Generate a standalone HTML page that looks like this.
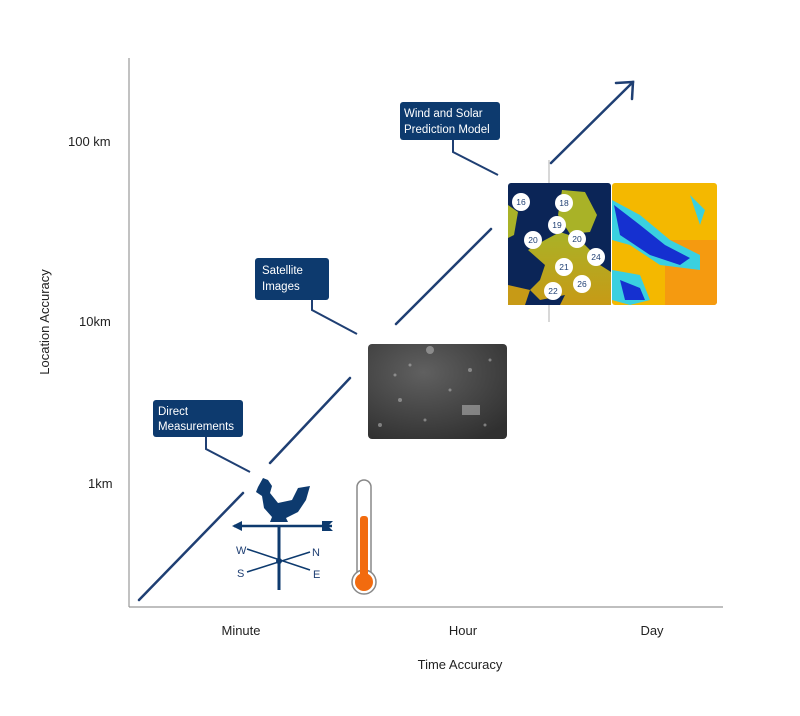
<!DOCTYPE html>
<html><head><meta charset="utf-8"><style>
html,body{margin:0;padding:0;background:#fff;}
svg text{font-family:"Liberation Sans",sans-serif;}
</style></head><body>
<svg width="800" height="711" viewBox="0 0 800 711" xmlns="http://www.w3.org/2000/svg">
<defs>
<linearGradient id="land" x1="0" y1="0" x2="0" y2="1"><stop offset="0" stop-color="#a9b227"/><stop offset="1" stop-color="#c79a16"/></linearGradient>
<radialGradient id="sat" cx="0.4" cy="0.3" r="0.8"><stop offset="0" stop-color="#606060"/><stop offset="1" stop-color="#303030"/></radialGradient>
<clipPath id="hc"><rect x="612" y="183" width="105" height="122" rx="3"/></clipPath>
</defs>
<!-- axes -->
<line x1="129" y1="58" x2="129" y2="607" stroke="#999" stroke-width="1.2"/>
<line x1="129" y1="607" x2="723" y2="607" stroke="#999" stroke-width="1.2"/>
<line x1="549" y1="160" x2="549" y2="322" stroke="#ccc" stroke-width="1.5"/>
<g font-size="13" fill="#222">
<text x="68" y="146">100 km</text>
<text x="79" y="326">10km</text>
<text x="88" y="488">1km</text>
<text x="241" y="635" text-anchor="middle">Minute</text>
<text x="463" y="635" text-anchor="middle">Hour</text>
<text x="652" y="635" text-anchor="middle">Day</text>
<text x="460" y="669" text-anchor="middle">Time Accuracy</text>
<text transform="translate(49,322) rotate(-90)" text-anchor="middle">Location Accuracy</text>
</g>
<g stroke="#1f3f73" stroke-width="2.5" fill="none" stroke-linecap="round">
<line x1="139" y1="600" x2="243" y2="493"/>
<line x1="270" y1="463" x2="350" y2="378"/>
<line x1="396" y1="324" x2="491" y2="229"/>
<line x1="551" y1="163" x2="633" y2="82"/>
<polyline points="616,83 633,82 632,99"/>
</g>
<g stroke="#1f3f73" stroke-width="2" fill="none">
<polyline points="206,437 206,449 250,472"/>
<polyline points="312,300 312,310 357,334"/>
<polyline points="453,140 453,152 498,175"/>
</g>
<g fill="#0d3a6e">
<rect x="153" y="400" width="90" height="37" rx="3"/>
<rect x="255" y="258" width="74" height="42" rx="3"/>
<rect x="400" y="102" width="100" height="38" rx="3"/>
</g>
<g fill="#fff" font-size="11.5">
<text x="158" y="415">Direct</text><text x="158" y="430">Measurements</text>
<text x="262" y="274">Satellite</text><text x="262" y="290">Images</text>
<text x="404" y="117">Wind and Solar</text><text x="404" y="133">Prediction Model</text>
</g>
<!-- satellite image -->
<rect x="368" y="344" width="139" height="95" rx="4" fill="url(#sat)"/>
<g fill="#bbb" opacity="0.55"><circle cx="430" cy="350" r="4"/><circle cx="470" cy="370" r="2"/><circle cx="400" cy="400" r="2"/><rect x="462" y="405" width="18" height="10"/><circle cx="380" cy="425" r="2"/><circle cx="410" cy="365" r="1.5"/><circle cx="450" cy="390" r="1.5"/><circle cx="490" cy="360" r="1.5"/><circle cx="425" cy="420" r="1.5"/><circle cx="485" cy="425" r="1.5"/><circle cx="395" cy="375" r="1.5"/></g>
<!-- map -->
<rect x="508" y="183" width="103" height="122" rx="3" fill="#0b2557"/>
<path d="M528,250 L545,240 L560,232 L578,238 L592,252 L600,265 L611,272 L611,305 L560,305 L565,295 L540,300 L530,290 L540,280 L545,265 Z" fill="url(#land)"/>
<path d="M508,285 L530,290 L525,305 L508,305 Z" fill="#c79a16"/>
<path d="M562,190 L585,192 L597,215 L590,232 L570,234 L558,215 Z" fill="#a9b227"/>
<path d="M508,205 L518,212 L514,235 L508,238 Z" fill="#a9b227"/>
<g fill="#fff"><circle cx="521" cy="202" r="9"/><circle cx="564" cy="203" r="9"/><circle cx="557" cy="225" r="9"/><circle cx="533" cy="240" r="9"/><circle cx="577" cy="239" r="9"/><circle cx="596" cy="257" r="9"/><circle cx="564" cy="267" r="9"/><circle cx="582" cy="284" r="9"/><circle cx="553" cy="291" r="9"/></g>
<g fill="#1f3f73" font-size="8.5" text-anchor="middle">
<text x="521" y="205">16</text><text x="564" y="206">18</text><text x="557" y="228">19</text><text x="533" y="243">20</text><text x="577" y="242">20</text><text x="596" y="260">24</text><text x="564" y="270">21</text><text x="582" y="287">26</text><text x="553" y="294">22</text></g>
<!-- heatmap -->
<g clip-path="url(#hc)">
<rect x="612" y="183" width="105" height="122" fill="#f4b800"/>
<rect x="665" y="240" width="52" height="65" fill="#f59a10"/>
<path d="M612,200 L640,215 L670,240 L700,255 L700,270 L660,265 L630,245 L612,240 Z" fill="#3ad0e0"/>
<path d="M614,205 L640,225 L665,245 L690,258 L680,265 L650,255 L620,235 Z" fill="#1530d0"/>
<path d="M612,270 L640,275 L650,300 L630,305 L612,300 Z" fill="#3ad0e0"/>
<path d="M620,280 L640,288 L645,300 L625,300 Z" fill="#1530d0"/>
<path d="M690,195 L705,210 L700,225 Z" fill="#3ad0e0"/>
</g>
<!-- weathervane -->
<g fill="#0d3a6e" stroke="#0d3a6e">
<path d="M258,487 L263,478 L268,480 L272,486 L270,493 L278,503 L292,500 L298,488 L310,486 L306,500 L298,512 L286,518 L288,522 L270,522 L272,517 L264,508 L262,496 L256,492 Z" stroke="none"/>
<line x1="234" y1="526" x2="332" y2="526" stroke-width="2.5"/>
<path d="M232,526 L242,521 L242,531 Z" stroke="none"/>
<path d="M322,521 L333,521 L328,526 L333,531 L322,531 Z" stroke="none"/>
<line x1="279" y1="526" x2="279" y2="590" stroke-width="3"/>
<line x1="247" y1="549" x2="310" y2="570" stroke-width="1.5"/>
<line x1="247" y1="572" x2="310" y2="552" stroke-width="1.5"/>
<circle cx="279" cy="561" r="3" stroke="none"/>
</g>
<g fill="#1f3f73" font-size="11"><text x="236" y="554">W</text><text x="312" y="556">N</text><text x="237" y="577">S</text><text x="313" y="578">E</text></g>
<!-- thermometer -->
<rect x="357" y="480" width="14" height="100" rx="7" fill="#fff" stroke="#888" stroke-width="1.5"/>
<circle cx="364" cy="582" r="12" fill="#fff" stroke="#888" stroke-width="1.5"/>
<rect x="360" y="516" width="8" height="66" rx="3" fill="#f26b0f"/>
<circle cx="364" cy="582" r="9" fill="#f26b0f"/>
</svg>
</body></html>
